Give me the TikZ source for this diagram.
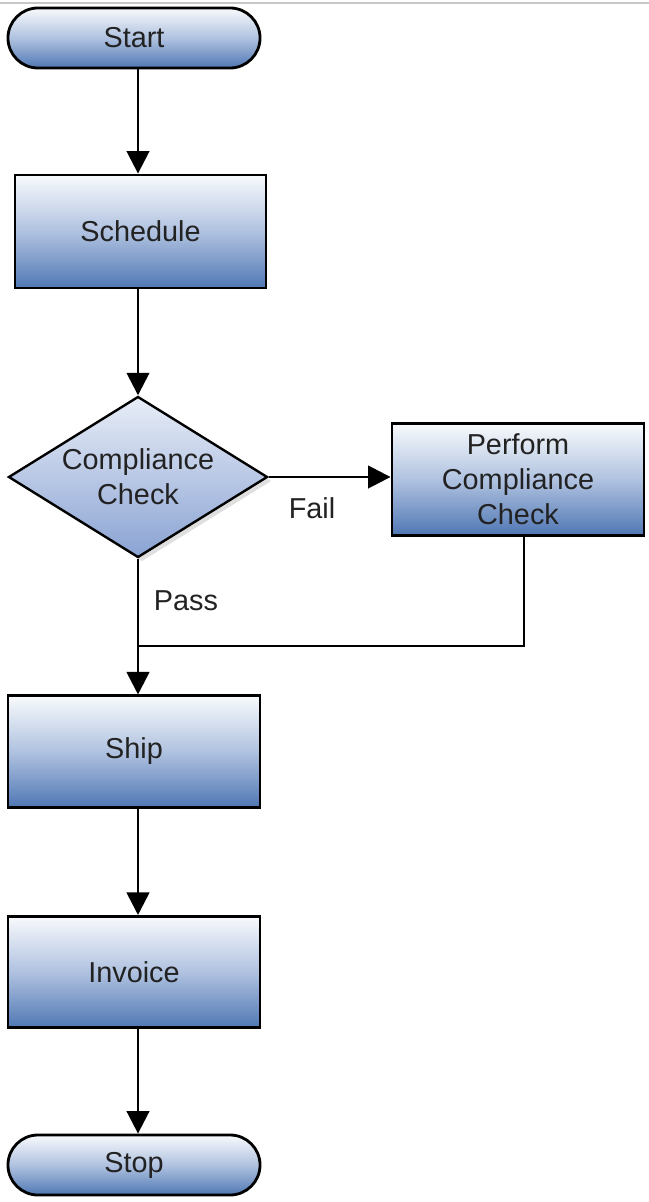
\documentclass[tikz,border=0pt]{standalone}
\usepackage{fontspec}
\setmainfont{Liberation Sans}
\usetikzlibrary{arrows.meta,shapes.geometric,positioning,calc,shadows}
\definecolor{flowtop}{RGB}{248,250,252}
\definecolor{flowmid}{RGB}{176,194,224}
\definecolor{flowbot}{RGB}{80,120,180}
\definecolor{dectop}{RGB}{232,237,247}
\definecolor{decbot}{RGB}{138,163,211}
\definecolor{txt}{RGB}{34,34,34}

\begin{document}
\begin{tikzpicture}[x=0.025cm, y=-0.025cm,
    term/.style={draw, line width=2pt, rounded corners=0.75cm, minimum width=6.3cm, minimum height=1.5cm, top color=flowtop, bottom color=flowbot, middle color=flowmid, font=\fontsize{20.5}{25}\selectfont, text=txt},
    proc/.style={draw, line width=2pt, minimum width=6.3cm, minimum height=2.78cm, align=center, top color=flowtop, bottom color=flowbot, middle color=flowmid, font=\fontsize{20.5}{25}\selectfont, text=txt},
    dec/.style={diamond, aspect=1.6, draw, line width=1.7pt, minimum width=6.475cm, minimum height=4.025cm, inner sep=0pt, align=center, top color=dectop, bottom color=decbot, font=\fontsize{20.5}{25}\selectfont, text=txt, drop shadow={shadow xshift=0.1cm, shadow yshift=-0.1cm, opacity=0.25}},
    arr/.style={-{Triangle[length=16pt, width=16pt]}, line width=1.9pt},
    lbl/.style={font=\fontsize{20.5}{25}\selectfont, text=txt}
]
\useasboundingbox (0,0) rectangle (649,1202);
\draw[black!22, line width=1.5pt] (0,3) -- (649,3);

\node[term] (start) at (134,38) {Start};
\node[proc, minimum width=6.275cm, minimum height=2.825cm] (sched) at (140.5,231.5) {Schedule};
\node[dec] (chk) at (138,477) {Compliance\\Check};
\node[proc] (perf) at (518,479.5) {Perform\\Compliance\\Check};
\node[proc] (ship) at (134,751.5) {Ship};
\node[proc] (inv) at (134,972) {Invoice};
\node[term] (stop) at (134,1165) {Stop};
\coordinate (join) at (138,646);

\draw[arr] (start.south -| chk.north) -- (sched.north -| chk.north);
\draw[arr] (sched.south -| chk.north) -- (chk.north);
\draw[arr] (chk.east) -- (chk.east -| perf.west);
\node[lbl] (fail) at (312,508) {Fail};
\draw[arr] (chk.south) -- (ship.north -| chk.south);
\node[lbl] (pass) at (186,601) {Pass};
\draw[line width=1.9pt] ([xshift=0.15cm]perf.south) |- (join);
\draw[arr] (ship.south -| chk.south) -- (inv.north -| chk.south);
\draw[arr] (inv.south -| chk.south) -- (stop.north -| chk.south);
\end{tikzpicture}
\end{document}
